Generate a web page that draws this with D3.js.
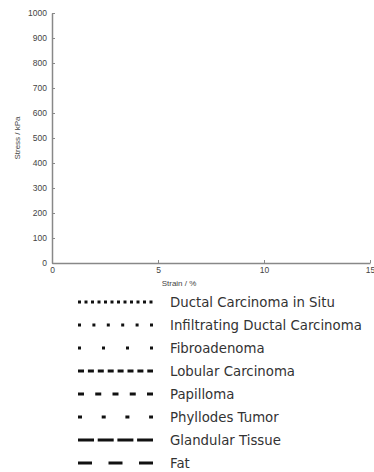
<!DOCTYPE html>
<html>
<head>
<meta charset="utf-8">
<script src="https://cdn.jsdelivr.net/npm/d3@7"></script>
<style>
  body { margin: 0; background: #fff; }
  text { font-family: "Liberation Sans", Arial, sans-serif; }
</style>
</head>
<body>
<div id="viz"></div>
<script>
const width = 374, height = 472;

// axis ranges and ticks
const xTicks = [0, 5, 10, 15];
const yTicks = [0, 100, 200, 300, 400, 500, 600, 700, 800, 900, 1000];
const xTitle = "Strain / %";
const yTitle = "Stress / kPa";

// legend entries (no curves drawn in the plot area)
const tissues = [
  "Ductal Carcinoma in Situ",
  "Infiltrating Ductal Carcinoma",
  "Fibroadenoma",
  "Lobular Carcinoma",
  "Papilloma",
  "Phyllodes Tumor",
  "Glandular Tissue",
  "Fat"
];
const dashes = ["3,3.5", "3,11.4", "3,21", "6,3.9", "6,11.25", "4,19.7", "16,3.7", "14,16.5"];

const svg = d3.select("#viz").append("svg").attr("width", width).attr("height", height);
const margin = {top: 13, left: 52, right: 4, bottom: 209};

const x = d3.scaleLinear().domain([0, 15]).range([margin.left, width - margin.right]);
const y = d3.scaleLinear().domain([0, 1000]).range([height - margin.bottom, margin.top]);

const styleAxis = g => {
  g.select(".domain").attr("stroke", "#888").attr("stroke-width", 1.5);
  g.selectAll(".tick line").attr("stroke", "#888");
  g.selectAll(".tick text").attr("fill", "#444").style("font-size", "8.5px");
};

svg.append("g")
  .attr("transform", `translate(0,${y(0)})`)
  .call(d3.axisBottom(x).tickValues(xTicks).tickFormat(d3.format("d")).tickSizeInner(-3).tickSizeOuter(0).tickPadding(4))
  .call(styleAxis);

svg.append("g")
  .attr("transform", `translate(${x(0)},0)`)
  .call(d3.axisLeft(y).tickValues(yTicks).tickFormat(d3.format("d")).tickSizeInner(-3).tickSizeOuter(0).tickPadding(5))
  .call(styleAxis);

svg.append("text")
  .attr("x", 179).attr("y", 286)
  .attr("text-anchor", "middle")
  .attr("fill", "#444").style("font-size", "8px")
  .text(xTitle);

svg.append("text")
  .attr("transform", "translate(20,138) rotate(-90)")
  .attr("text-anchor", "middle")
  .attr("fill", "#444").style("font-size", "8px")
  .text(yTitle);

const legend = svg.append("g");
const row = d3.scalePoint().domain(tissues).range([302, 463]);

const item = legend.selectAll("g").data(tissues).enter().append("g")
  .attr("transform", d => `translate(0,${row(d)})`);

item.append("line")
  .attr("x1", 78).attr("x2", 153)
  .attr("stroke", "#111").attr("stroke-width", 3)
  .attr("stroke-dasharray", (d, i) => dashes[i]);

item.append("text")
  .attr("x", 170).attr("dy", "0.35em")
  .attr("fill", "#333")
  .style("font-family", "'DejaVu Sans', sans-serif")
  .style("font-size", "13.3px")
  .text(d => d);
</script>
</body>
</html>
